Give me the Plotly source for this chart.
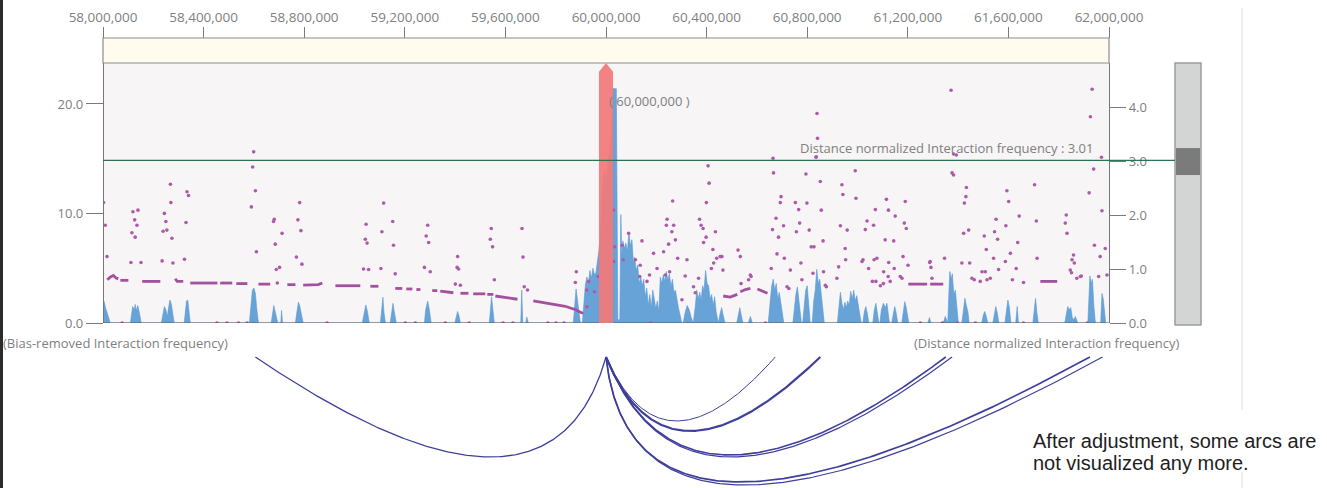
import numpy as np
import plotly.graph_objects as go

FIG_W, FIG_H = 1327, 488

# ---- genomic window -------------------------------------------------------
region_start = 58_000_000
region_end = 62_000_000
tick_step = 400_000
viewpoint = 60_000_000
viewpoint_half_width = 28_000
threshold = 3.01

left_max = 23.74     # bias-removed axis (left)
right_max = 4.815    # distance-normalized axis (right)

# ---- bias-removed interaction frequency (Mb, value) ----------------------
blue_pos = [
    58.000, 58.004, 58.010, 58.017, 58.023, 58.029,
    58.109, 58.113, 58.118, 58.124, 58.128, 58.132, 58.138, 58.144, 58.148, 58.152,
    58.232, 58.238, 58.244, 58.250, 58.256, 58.260, 58.266, 58.272, 58.278, 58.283,
    58.323, 58.327, 58.332, 58.337, 58.342, 58.347,
    58.582, 58.588, 58.594, 58.600, 58.606, 58.611, 58.618,
    58.669, 58.675, 58.679, 58.685, 58.691, 58.695,
    58.707, 58.710, 58.714,
    58.765, 58.771, 58.777, 58.782, 58.788, 58.796,
    59.031, 59.039, 59.045, 59.051, 59.059,
    59.103, 59.109, 59.113, 59.117, 59.123,
    59.142, 59.148, 59.153, 59.159, 59.166,
    59.278, 59.283, 59.291, 59.297, 59.305,
    59.399, 59.405, 59.410, 59.415, 59.421,
    59.536, 59.541, 59.545, 59.549, 59.556,
    59.661, 59.665, 59.669,
    59.681, 59.685, 59.691,
    59.870, 59.876, 59.881, 59.886, 59.892, 59.898,
    59.906, 59.912, 59.918, 59.924, 59.930, 59.936, 59.942, 59.948, 59.954, 59.960, 59.966, 59.971, 59.977,
    59.985, 59.993, 60.001, 60.009, 60.017, 60.023, 60.027, 60.041, 60.044, 60.047,
    60.055, 60.059, 60.063, 60.067, 60.073, 60.079, 60.085, 60.091, 60.097, 60.103,
    60.109, 60.114, 60.120, 60.126, 60.132, 60.138, 60.144, 60.150, 60.156, 60.162,
    60.168, 60.174, 60.180, 60.186, 60.192, 60.198, 60.204, 60.210,
    60.216, 60.222, 60.228, 60.234, 60.240, 60.246, 60.252, 60.258, 60.264, 60.270, 60.276, 60.282, 60.288, 60.296, 60.301,
    60.307, 60.315, 60.323, 60.331, 60.339, 60.345,
    60.347, 60.355, 60.361, 60.367, 60.373, 60.378, 60.384, 60.390, 60.396, 60.402, 60.408, 60.414, 60.420, 60.426, 60.432, 60.438, 60.444,
    60.447, 60.454, 60.460, 60.465, 60.473,
    60.520, 60.526, 60.532, 60.538, 60.544,
    60.566, 60.574, 60.582,
    60.645, 60.653, 60.659, 60.665, 60.671, 60.677, 60.683, 60.689, 60.695, 60.701, 60.707,
    60.743, 60.749, 60.755, 60.761, 60.767, 60.773, 60.777,
    60.782, 60.788, 60.794, 60.800, 60.806, 60.812,
    60.820, 60.826, 60.832, 60.838, 60.844, 60.850, 60.856, 60.862, 60.868,
    60.920, 60.926, 60.932, 60.938, 60.944, 60.950, 60.956, 60.961, 60.967, 60.973, 60.979, 60.985, 60.991, 60.997, 61.003, 61.009, 61.015,
    61.021, 61.027, 61.033, 61.039, 61.045,
    61.061, 61.067, 61.073, 61.079, 61.085,
    61.089, 61.095, 61.103, 61.111, 61.117, 61.123, 61.127,
    61.136, 61.142, 61.148, 61.154, 61.160,
    61.176, 61.182, 61.188, 61.194, 61.200, 61.204,
    61.280, 61.286, 61.292,
    61.341, 61.349, 61.357,
    61.359, 61.363, 61.367, 61.373, 61.377, 61.383, 61.389, 61.395, 61.401,
    61.415, 61.421, 61.427, 61.433, 61.439, 61.444,
    61.494, 61.500, 61.506, 61.512, 61.518,
    61.538, 61.544, 61.550, 61.556, 61.562,
    61.586, 61.592, 61.598, 61.604, 61.610,
    61.629, 61.635, 61.640,
    61.697, 61.703, 61.708, 61.713, 61.719,
    61.824, 61.830, 61.836, 61.842, 61.848, 61.854, 61.860, 61.866, 61.872, 61.876,
    61.916, 61.920, 61.924, 61.930, 61.934, 61.940, 61.946,
    61.967, 61.972, 61.977, 61.983, 61.987,
]
blue_val = [
    1.9, 2.0, 1.4, 0.8, 0.3, 0,
    0, 0.8, 1.5, 1.2, 1.7, 1.1, 1.6, 1.0, 0.6, 0,
    0, 0.9, 1.5, 1.2, 0.6, 1.3, 2.1, 1.7, 0.8, 0,
    0, 0.9, 2.0, 2.1, 1.2, 0,
    0, 1.8, 3.0, 3.2, 2.7, 1.4, 0,
    0, 1.2, 1.6, 1.0, 0.4, 0,
    0, 1.15, 0,
    0, 1.0, 1.9, 1.6, 0.8, 0,
    0, 1.2, 1.65, 1.1, 0,
    0, 1.2, 2.35, 1.0, 0,
    0, 0.9, 1.8, 0.9, 0,
    0, 1.2, 2.0, 1.3, 0,
    0, 0.6, 1.05, 0.7, 0,
    0, 1.3, 2.4, 1.5, 0,
    0, 3.0, 0,
    0, 0.55, 0,
    0, 1.5, 3.1, 2.2, 0.8, 0,
    0, 1.5, 3.5, 4.2, 3.6, 4.8, 4.1, 5.0, 4.4, 4.6, 5.5, 6.5, 8.0,
    12.0, 14.0, 13.0, 15.0, 16.0, 18.0, 21.4, 21.4, 3.0, 0.3,
    0.3, 9.9, 6.0, 7.5, 6.8, 7.3, 6.5, 8.3, 7.0, 7.6,
    5.5, 6.0, 4.8, 5.3, 3.6, 4.2, 3.4, 4.0, 2.4, 3.2,
    1.6, 2.6, 1.4, 3.0, 2.2, 1.3, 2.0, 1.0,
    4.2, 3.6, 4.4, 3.8, 4.7, 3.9, 4.5, 3.3, 4.0, 2.8, 3.0, 2.0, 1.4, 0.6, 0,
    0, 1.0, 1.6, 1.2, 0.5, 0,
    0, 1.5, 3.0, 2.2, 2.8, 2.0, 3.4, 3.0, 4.8, 3.6, 3.4, 2.2, 2.6, 1.6, 2.4, 1.0, 0,
    0, 0.9, 1.4, 0.8, 0,
    0, 0.9, 1.4, 0.7, 0,
    0, 0.6, 0,
    0, 2.0, 3.4, 4.0, 3.0, 3.6, 2.2, 2.8, 1.8, 1.0, 0,
    0, 1.6, 2.6, 3.3, 2.0, 0.8, 0,
    0, 1.8, 3.0, 3.4, 1.9, 0,
    0, 2.0, 3.0, 4.9, 3.6, 4.0, 2.6, 1.2, 0,
    0, 1.6, 2.8, 1.8, 1.2, 1.9, 1.4, 2.0, 1.6, 2.9, 2.2, 3.0, 2.0, 2.5, 1.4, 0.8, 0,
    0, 1.0, 1.5, 0.9, 0,
    0, 1.2, 1.8, 1.0, 0,
    0, 1.2, 1.8, 1.4, 1.8, 0.6, 0,
    0, 1.0, 1.5, 0.9, 0,
    0, 1.2, 1.95, 1.4, 0.5, 0,
    0, 0.5, 0,
    0, 0.6, 0,
    0, 2.5, 4.7, 4.0, 4.5, 2.6, 3.0, 1.5, 0,
    0, 1.3, 2.25, 1.6, 1.0, 0,
    0, 0.7, 1.05, 0.6, 0,
    0, 0.9, 1.5, 0.9, 0,
    0, 1.3, 2.1, 1.4, 0,
    0, 1.5, 0,
    0, 1.2, 2.25, 1.0, 0,
    0, 0.9, 1.5, 1.2, 1.4, 0.5, 0.3, 0.6, 0.2, 0,
    0, 2.5, 4.3, 3.6, 4.0, 1.5, 0,
    0, 2.7, 2.2, 1.0, 0,
]

# ---- distance-normalized interaction frequency: single bins (Mb, value) --
dot_pos = [
    58.002, 58.009, 58.016, 58.119, 58.139, 58.126, 58.135, 58.115, 58.128, 58.111, 58.151,
    58.268, 58.270, 58.244, 58.250, 58.239, 58.254, 58.274, 58.235, 58.278,
    58.334, 58.340, 58.330, 58.324,
    58.599, 58.595, 58.606, 58.590, 58.610,
    58.681, 58.678, 58.712, 58.685, 58.702, 58.689, 58.693,
    58.782, 58.775, 58.787, 58.769, 58.791,
    59.116, 59.046, 59.152, 59.109, 59.043, 59.050, 59.155, 59.036, 59.056, 59.105, 59.162,
    59.291, 59.285, 59.295, 59.278, 59.301,
    59.410, 59.408, 59.414, 59.401, 59.421,
    59.544, 59.540, 59.549, 59.556,
    59.666, 59.670, 59.675, 59.688,
    59.882, 59.878, 59.931, 59.954, 59.924, 59.969, 59.923,
    60.029, 60.034, 60.030, 60.064, 60.068,
    60.090, 60.117, 60.136, 60.143, 60.134, 60.163, 60.173, 60.189,
    60.203, 60.229, 60.243, 60.240, 60.265, 60.269, 60.262, 60.276, 60.249, 60.285,
    60.253, 60.302, 60.322, 60.315, 60.236, 60.348, 60.355, 60.368,
    60.372, 60.378, 60.386, 60.398, 60.388, 60.406, 60.410, 60.399,
    60.435, 60.425, 60.454, 60.419, 60.465, 60.428, 60.440, 60.461,
    60.525, 60.534, 60.537, 60.574, 60.577, 60.567,
    60.664, 60.666, 60.662, 60.657, 60.676, 60.686, 60.680, 60.696, 60.693, 60.706,
    60.709, 60.720, 60.727, 60.733, 60.753, 60.766, 60.770, 60.757,
    60.799, 60.795, 60.808, 60.775, 60.779, 60.816, 60.827, 60.836, 60.852,
    60.856, 60.863, 60.823, 60.876, 60.865, 60.872, 60.839, 60.841, 60.835,
    60.938, 60.942, 60.991, 60.994, 60.932, 60.959, 60.951, 60.925, 60.918, 60.953,
    61.038, 61.031, 61.064, 61.071, 61.115, 61.123, 61.022, 61.044, 61.066, 61.077,
    61.059, 61.103, 61.122, 61.018, 61.073, 61.091, 61.130, 61.170,
    61.150, 61.190, 61.186, 61.194, 61.110, 61.144, 61.124, 61.146, 61.181, 61.201, 61.104, 61.177,
    61.287, 61.292, 61.289, 61.296, 61.346,
    61.376, 61.382, 61.433, 61.431, 61.425, 61.393, 61.422, 61.442, 61.415, 61.446,
    61.455, 61.464, 61.488, 61.515, 61.528, 61.504, 61.512, 61.495, 61.508,
    61.551, 61.545, 61.557, 61.541, 61.561,
    61.594, 61.601, 61.590, 61.608, 61.588, 61.616,
    61.643, 61.637, 61.631, 61.660, 61.704, 61.711, 61.714,
    61.830, 61.826, 61.833, 61.859, 61.853, 61.862, 61.846, 61.851, 61.872, 61.886, 61.890,
    61.921, 61.939, 61.972, 61.942, 61.985, 61.965, 61.959, 61.992,
    61.372, 61.933, 61.926, 61.382, 61.970,
    58.076, 58.453, 58.493, 58.539, 58.573, 58.891, 59.202, 59.242, 59.361, 59.456, 59.591, 59.630,
    59.769, 59.801, 59.833, 60.177, 60.634, 61.250, 61.337, 61.397, 61.469, 61.660, 61.914,
]
dot_val = [
    2.23, 1.81, 1.23, 2.06, 2.09, 1.91, 1.81, 1.67, 1.59, 1.12, 1.12,
    2.57, 2.23, 2.03, 1.88, 1.70, 1.72, 1.57, 1.15, 1.11,
    2.43, 2.36, 1.86, 1.18,
    3.17, 2.89, 2.45, 2.15, 1.32,
    1.92, 1.88, 1.66, 1.46, 1.03, 0.99, 0.74,
    2.23, 1.91, 1.71, 1.22, 1.09,
    2.22, 1.83, 1.88, 1.69, 1.55, 1.48, 1.44, 1.00, 0.99, 1.01, 0.91,
    1.81, 1.61, 1.49, 1.03, 0.95,
    1.23, 1.03, 1.00, 0.72, 0.70,
    1.75, 1.55, 1.41, 0.80,
    1.75, 1.22, 0.67, 0.61,
    0.95, 0.75, 0.77, 0.58, 0.30, 0.86, 0.61,
    2.09, 1.41, 1.14, 1.44, 1.17,
    1.66, 1.17, 1.07, 1.52, 0.86, 0.77, 0.89, 1.29,
    1.01, 1.32, 1.92, 1.81, 2.26, 1.81, 1.69, 1.54, 1.46, 1.20,
    0.95, 0.43, 1.17, 0.87, 0.89, 0.67, 0.56, 0.83,
    1.92, 1.81, 1.75, 1.59, 1.49, 2.91, 2.59, 2.23,
    1.69, 1.36, 1.23, 1.01, 0.98, 1.11, 1.20, 1.23,
    1.35, 1.23, 0.73, 0.89, 0.86, 0.80,
    3.05, 2.78, 1.73, 1.01, 1.94, 1.59, 1.28, 2.34, 2.23, 1.80,
    1.20, 0.67, 0.64, 0.98, 2.23, 2.10, 1.85, 1.69,
    2.22, 2.76, 1.72, 1.11, 0.80, 1.41, 1.41, 3.08, 2.62,
    2.09, 1.52, 0.92, 0.67, 0.95, 0.70, 3.88, 3.42, 3.07,
    2.56, 2.38, 2.82, 2.31, 1.80, 1.72, 1.38, 1.04, 0.83, 1.17,
    1.89, 1.73, 1.81, 2.10, 2.29, 2.09, 1.17, 1.01, 1.17, 1.20,
    0.77, 0.73, 0.86, 1.14, 0.77, 0.69, 0.77, 0.86,
    1.98, 2.25, 1.85, 1.75, 1.54, 1.52, 1.12, 1.01, 1.23, 1.07, 0.95, 0.83,
    1.12, 1.03, 1.14, 0.83, 1.20,
    2.78, 2.74, 2.51, 2.34, 2.22, 3.11, 1.66, 1.72, 1.11, 1.11,
    0.83, 0.80, 0.77, 0.80, 0.83, 1.61, 1.36, 0.95, 0.95,
    1.92, 1.69, 1.55, 1.20, 0.99,
    2.45, 2.25, 1.80, 1.29, 1.14, 0.80,
    1.98, 1.49, 1.01, 0.75, 2.56, 1.89, 1.20,
    2.00, 1.85, 1.66, 1.26, 1.17, 1.11, 0.98, 0.93, 0.83, 0.86, 0.87,
    2.41, 2.85, 2.08, 1.44, 1.38, 1.23, 0.86, 0.89,
    4.31, 4.33, 3.82, 3.13, 3.07,
    0.0, 0.0, 0.0, 0.0, 0.0, 0.0, 0.0, 0.0, 0.0, 0.0, 0.0, 0.0,
    0.0, 0.0, 0.0, 0.0, 0.0, 0.0, 0.0, 0.0, 0.0, 0.0, 0.0,
]

# ---- distance-normalized frequency: runs of adjacent bins (None = break) --
trend_pos = [
    58.017, 58.029, 58.041, 58.053, 58.061, None,
    58.069, 58.101, None,
    58.156, 58.228, None,
    58.287, 58.295, 58.319, None,
    58.347, 58.455, None,
    58.466, 58.514, None,
    58.530, 58.574, None,
    58.618, 58.665, None,
    58.733, 58.765, None,
    58.796, 58.856, 58.872, None,
    58.924, 59.023, None,
    59.063, 59.095, None,
    59.162, 59.190, None,
    59.206, 59.230, None,
    59.246, 59.262, None,
    59.309, 59.329, None,
    59.341, 59.365, 59.393, None,
    59.421, 59.453, None,
    59.472, 59.520, None,
    59.528, 59.552, None,
    59.560, 59.600, 59.648, None,
    59.711, 59.759, 59.798, 59.838, 59.870, 59.878, 59.898, 59.910, None,
    60.466, 60.494, 60.522, None,
    60.534, 60.554, 60.574, None,
    60.602, 60.622, 60.642, None,
    61.202, 61.277, None,
    61.289, 61.341, None,
    61.727, 61.794,
]
trend_val = [
    0.80, 0.85, 0.88, 0.83, 0.82, None,
    0.79, 0.79, None,
    0.77, 0.77, None,
    0.82, 0.77, 0.77, None,
    0.74, 0.74, None,
    0.74, 0.74, None,
    0.73, 0.73, None,
    0.72, 0.72, None,
    0.71, 0.71, None,
    0.70, 0.71, 0.74, None,
    0.69, 0.69, None,
    0.68, 0.68, None,
    0.64, 0.64, None,
    0.63, 0.63, None,
    0.62, 0.62, None,
    0.60, 0.60, None,
    0.59, 0.58, 0.56, None,
    0.55, 0.55, None,
    0.54, 0.54, None,
    0.53, 0.53, None,
    0.50, 0.47, 0.44, None,
    0.41, 0.37, 0.35, 0.31, 0.26, 0.25, 0.20, 0.18, None,
    0.50, 0.48, 0.53, None,
    0.58, 0.62, 0.64, None,
    0.63, 0.59, 0.55, None,
    0.72, 0.72, None,
    0.72, 0.72, None,
    0.77, 0.77,
]

# ---- interaction arcs from the viewpoint ----------------------------------
arc_anchor = [58.606, 60.673, 60.852, 61.351, 61.376, 61.924, 61.974]   # Mb
arc_apex = [59.540, 60.281, 60.335, 60.494, 60.500, 60.534, 60.552]     # Mb
arc_depth = [100, 64, 74, 98, 100, 125, 128]
arc_width = [1.3, 1.0, 2.2, 1.6, 1.2, 1.7, 1.2]

note_lines = ["After adjustment, some arcs are", "not visualized any more."]

# ---------------------------------------------------------------------------
MB = 1_000_000


def px(x):
    return x / FIG_W


def py(y):
    return 1 - y / FIG_H


GRAY_TEXT = "#808080"
FONT = "Open Sans"

fig = go.Figure()

fig.add_trace(go.Scatter(
    x=[p * MB for p in blue_pos], y=blue_val, mode="lines",
    line=dict(color="#5b9bd5", width=0.6), fill="tozeroy",
    fillcolor="rgba(91,155,213,0.92)", hoverinfo="skip", yaxis="y"))

fig.add_trace(go.Scatter(
    x=[None if p is None else p * MB for p in trend_pos], y=trend_val,
    mode="lines", line=dict(color="#a3519f", width=2.8), connectgaps=False,
    hoverinfo="skip", yaxis="y2"))

fig.add_trace(go.Scatter(
    x=[p * MB for p in dot_pos], y=dot_val, mode="markers",
    marker=dict(color="#ad5aab", size=3.6, line=dict(width=0)),
    hoverinfo="skip", yaxis="y2"))

t = np.linspace(0.0, 1.0, 200)
for end, apex, depth, w in zip(arc_anchor, arc_apex, arc_depth, arc_width):
    s = viewpoint
    e = end * MB
    c = 2 * apex * MB - 0.5 * (s + e)
    xs = (1 - t) ** 2 * s + 2 * t * (1 - t) * c + t ** 2 * e
    ys = 2 * t * (1 - t) * (-2.0 * depth)
    fig.add_trace(go.Scatter(
        x=xs, y=ys, mode="lines", line=dict(color="#3e3f9b", width=w),
        hoverinfo="skip", yaxis="y3"))

x_dom = [px(103), px(1109)]
main_dom = [py(323), py(63)]

shapes = [
    # track background
    dict(type="rect", xref="paper", yref="paper", x0=x_dom[0], x1=x_dom[1],
         y0=main_dom[0], y1=main_dom[1], fillcolor="#f7f5f5", line=dict(width=0),
         layer="below"),
    # left frame edge
    dict(type="line", xref="paper", yref="paper", x0=px(1.5), x1=px(1.5), y0=0, y1=1,
         line=dict(color="#2b2b2b", width=3)),
    # divider on the right (interrupted by the note)
    dict(type="line", xref="paper", yref="paper", x0=px(1242), x1=px(1242),
         y0=py(410), y1=py(8), line=dict(color="#e2e2e2", width=1), layer="below"),
    dict(type="line", xref="paper", yref="paper", x0=px(1242), x1=px(1242),
         y0=0, y1=py(472), line=dict(color="#e2e2e2", width=1), layer="below"),
    # header band
    dict(type="rect", xref="paper", yref="paper", x0=x_dom[0], x1=x_dom[1],
         y0=py(63), y1=py(38), fillcolor="#fffbef", line=dict(color="#8e8e8e", width=1.2)),
    # baseline of the track
    dict(type="line", xref="paper", yref="y", x0=x_dom[0], x1=x_dom[1], y0=0, y1=0,
         line=dict(color="#5a5a5a", width=1.2)),
    # viewpoint marker
    dict(type="path", xref="x", yref="y", layer="above",
         path=(f"M {viewpoint - viewpoint_half_width},0 "
               f"L {viewpoint - viewpoint_half_width},{left_max - 0.8} "
               f"L {viewpoint},{left_max} "
               f"L {viewpoint + viewpoint_half_width},{left_max - 0.8} "
               f"L {viewpoint + viewpoint_half_width},0 Z"),
         fillcolor="rgba(242,122,122,0.93)", line=dict(width=0)),
    # slider track and handle
    dict(type="rect", xref="paper", yref="paper", x0=px(1175), x1=px(1201),
         y0=py(325), y1=py(63), fillcolor="#d3d5d5", line=dict(color="#9c9c9c", width=1.5)),
    dict(type="rect", xref="paper", yref="y2", x0=px(1176), x1=px(1200),
         y0=threshold - 0.27, y1=threshold + 0.23, fillcolor="#7b7b7b", line=dict(width=0)),
    # threshold line
    dict(type="line", xref="paper", yref="y2", x0=x_dom[0], x1=px(1175),
         y0=threshold, y1=threshold, line=dict(color="#2f6f52", width=1.3), layer="above"),
]

label_font = dict(family=FONT, size=13, color=GRAY_TEXT)
note_font = dict(family="Liberation Sans, Arial", size=20, color="#1e1e1e")

annotations = [
    dict(text=f"( {viewpoint:,} )", x=viewpoint, xref="x", xanchor="left", xshift=1,
         y=py(101), yref="paper", yanchor="middle", showarrow=False, font=label_font),
    dict(text=f"Distance normalized Interaction frequency : {threshold:.2f}",
         x=px(1096), xref="paper", xanchor="right", y=py(148), yref="paper",
         yanchor="middle", showarrow=False, font=label_font),
    dict(text="(Bias-removed Interaction frequency)", x=px(1), xref="paper",
         xanchor="left", y=py(343), yref="paper", yanchor="middle", showarrow=False,
         font=label_font),
    dict(text="(Distance normalized Interaction frequency)", x=px(1181), xref="paper",
         xanchor="right", y=py(343), yref="paper", yanchor="middle", showarrow=False,
         font=label_font),
    dict(text=note_lines[0], x=px(1031), xref="paper", xanchor="left", y=py(441),
         yref="paper", yanchor="middle", showarrow=False, font=note_font),
    dict(text=note_lines[1], x=px(1031), xref="paper", xanchor="left", y=py(463),
         yref="paper", yanchor="middle", showarrow=False, font=note_font),
]

x_tick_font = dict(family=FONT, size=13.5, color=GRAY_TEXT)
y_tick_font = dict(family=FONT, size=13, color=GRAY_TEXT)

fig.update_layout(
    width=FIG_W, height=FIG_H, autosize=False,
    margin=dict(l=0, r=0, t=0, b=0, pad=0),
    paper_bgcolor="white", plot_bgcolor="rgba(0,0,0,0)",
    showlegend=False, hovermode=False,
    shapes=shapes, annotations=annotations,
    xaxis=dict(
        domain=x_dom, range=[region_start, region_end], anchor="free",
        position=py(38), side="top", tick0=region_start, dtick=tick_step,
        tickformat=",d", ticks="outside", ticklen=11, tickwidth=1,
        tickcolor="#7a7a7a", showline=True, linecolor="#8e8e8e",
        showgrid=False, zeroline=False, tickfont=x_tick_font, automargin=False),
    yaxis=dict(
        domain=main_dom, range=[0, left_max], anchor="free", position=x_dom[0],
        tickvals=[0, 10, 20], tickformat=".1f", ticks="outside", ticklen=17,
        tickcolor="#7a7a7a", showline=True, linecolor="#777777", linewidth=1.2,
        showgrid=False, zeroline=False, tickfont=y_tick_font, automargin=False),
    yaxis2=dict(
        overlaying="y", side="right", range=[0, right_max], anchor="free",
        position=x_dom[1], tickvals=[0, 1, 2, 3, 4], tickformat=".1f",
        ticks="outside", ticklen=16, tickcolor="#7a7a7a", showline=True,
        linecolor="#777777", linewidth=1.2, showgrid=False, zeroline=False,
        tickfont=y_tick_font, automargin=False),
    yaxis3=dict(
        domain=[0, py(350)], range=[-131, 7], anchor="free", position=x_dom[0],
        visible=False, showgrid=False, zeroline=False),
)

fig.write_html("out.html")
